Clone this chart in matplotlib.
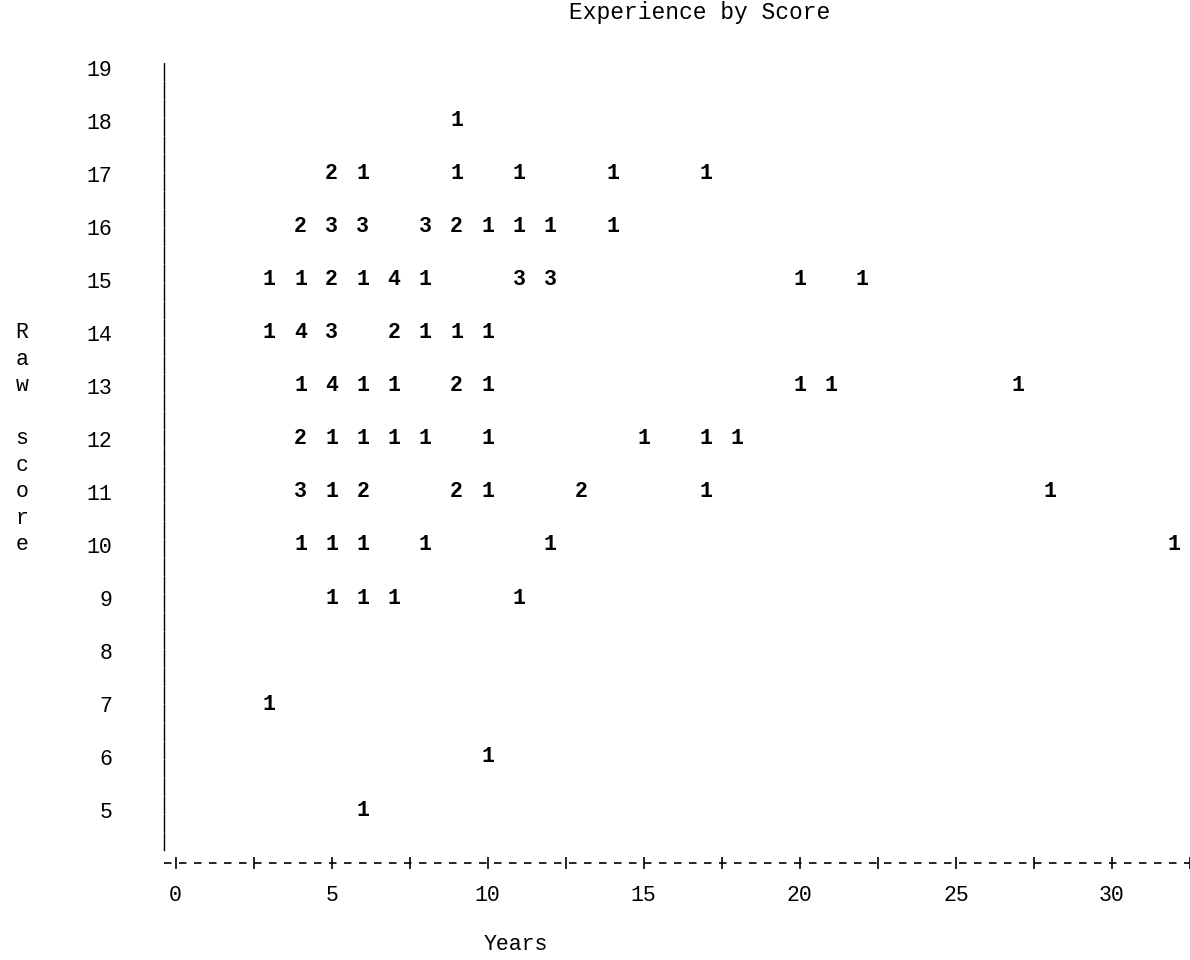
import matplotlib
matplotlib.use("Agg")
import matplotlib.pyplot as plt
import matplotlib.transforms as mtransforms
import numpy as np

# ---- data: (years, raw score, count of observations) ----
years = [9,
         5, 6, 9, 11, 14, 17,
         4, 5, 6, 8, 9, 10, 11, 12, 14,
         3, 4, 5, 6, 7, 8, 11, 12, 20, 22,
         3, 4, 5, 7, 8, 9, 10,
         4, 5, 6, 7, 9, 10, 20, 21, 27,
         4, 5, 6, 7, 8, 10, 15, 17, 18,
         4, 5, 6, 9, 10, 13, 17, 28,
         4, 5, 6, 8, 12, 32,
         5, 6, 7, 11,
         3,
         10,
         6]
scores = [18,
          17, 17, 17, 17, 17, 17,
          16, 16, 16, 16, 16, 16, 16, 16, 16,
          15, 15, 15, 15, 15, 15, 15, 15, 15, 15,
          14, 14, 14, 14, 14, 14, 14,
          13, 13, 13, 13, 13, 13, 13, 13, 13,
          12, 12, 12, 12, 12, 12, 12, 12, 12,
          11, 11, 11, 11, 11, 11, 11, 11,
          10, 10, 10, 10, 10, 10,
          9, 9, 9, 9,
          7,
          6,
          5]
counts = [1,
          2, 1, 1, 1, 1, 1,
          2, 3, 3, 3, 2, 1, 1, 1, 1,
          1, 1, 2, 1, 4, 1, 3, 3, 1, 1,
          1, 4, 3, 2, 1, 1, 1,
          1, 4, 1, 1, 2, 1, 1, 1, 1,
          2, 1, 1, 1, 1, 1, 1, 1, 1,
          3, 1, 2, 2, 1, 2, 1, 1,
          1, 1, 1, 1, 1, 1,
          1, 1, 1, 1,
          1,
          1,
          1]

y_ticks = list(range(5, 20))
x_ticks = [0, 5, 10, 15, 20, 25, 30]
x_minor = [2.5, 7.5, 12.5, 17.5, 22.5, 27.5, 32.5]
title = "Experience by Score"
x_label = "Years"
y_label = "Raw score"

MONO = "Liberation Mono"
FS = 15.5

W, H = 1190, 960
fig = plt.figure(figsize=(W / 100, H / 100), dpi=100)
fig.patch.set_facecolor("white")

# axes placement (pixels): left spine at x=164, bottom axis at y=863, top ~62
left_px, right_px, top_px, bottom_px = 164, 1190, 62, 863
ax = fig.add_axes([left_px / W, 1 - bottom_px / H,
                   (right_px - left_px) / W, (bottom_px - top_px) / H])
ax.set_facecolor("white")

px_per_year = 32.3
x0_px = 176
ax.set_xlim((left_px - x0_px) / px_per_year, (right_px - x0_px) / px_per_year)
px_per_score = 53.0
ax.set_ylim(4, 4 + (bottom_px - top_px) / px_per_score)

# counts as text marks
for xv, yv, c in zip(years, scores, counts):
    ax.text(xv, yv, str(c), ha="center", va="center", fontsize=FS,
            family=MONO, fontweight="bold", color="black", clip_on=True)

# spines
for s in ["top", "right", "bottom"]:
    ax.spines[s].set_visible(False)
ax.spines["left"].set_linewidth(1.0)
ax.spines["left"].set_linestyle((0, (12, 1.2)))
ax.spines["left"].set_bounds(4.25, ax.get_ylim()[1])

# dashed x axis line (printer style)
ax.axhline(4, color="black", lw=1.2, linestyle=(0, (4.5, 4.5)), clip_on=False,
           xmin=0, xmax=1)

# ticks
ax.set_xticks(x_ticks)
ax.set_xticks(x_minor, minor=True)
ax.set_xticklabels([str(t) for t in x_ticks], family=MONO, fontsize=FS)
ax.tick_params(axis="x", which="both", direction="inout", length=9, width=1.2,
               color="black", pad=11)
ax.set_yticks(y_ticks)
ax.set_yticklabels([str(t) for t in y_ticks], family=MONO, fontsize=FS)
ax.tick_params(axis="y", length=0, pad=37)

# title and axis labels
fig.text(700 / W, 1 - 13 / H, title, ha="center", va="center",
         family=MONO, fontsize=16.5)
fig.text(516 / W, 1 - 945 / H, x_label, ha="center", va="center",
         family=MONO, fontsize=FS)

# stacked vertical y label, letters at half-row spacing from row 14 downward
trans = mtransforms.blended_transform_factory(fig.transFigure, ax.transData)
for i, ch in enumerate(y_label):
    if ch == " ":
        continue
    ax.text(22 / W, 14 - 0.5 * i, ch, transform=trans, ha="center", va="center",
            family=MONO, fontsize=FS, clip_on=False)

fig.savefig("out.png", dpi=100, facecolor="white")
